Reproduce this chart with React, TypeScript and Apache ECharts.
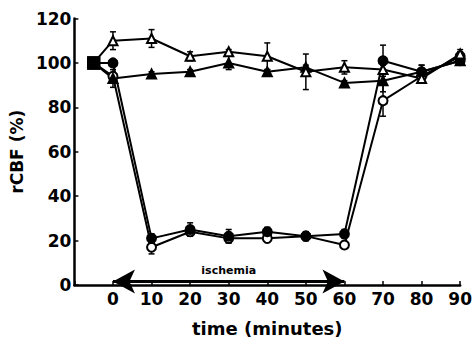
import React, { useEffect, useRef } from "react";
import * as echarts from "echarts";

const minutes = [-5, 0, 10, 20, 30, 40, 50, 60, 70, 80, 90];
const openTriangle = [100, 110, 111, 103, 105, 103, 96, 98, 97, 93, 104];
const filledTriangle = [100, 93, 95, 96, 100, 96, 98, 91, 92, 96, 101];
const filledCircle = [100, 100, 21, 25, 22, 24, 22, 23, 101, 96, 101];
const openCircle = [100, 94, 17, 24, 21, 21, 22, 18, 83, 94, 103];
const errOpenTriangle = [0, 4, 4, 2, 1, 6, 8, 3, 2, 2, 2];
const errFilledTriangle = [0, 4, 1, 1, 3, 1, 1, 1, 5, 3, 2];
const errFilledCircle = [0, 1, 2, 3, 3, 2, 2, 2, 7, 3, 2];
const errOpenCircle = [0, 1, 3, 2, 2, 1, 2, 1, 7, 3, 2];
const xTickLabels = ["0", "10", "20", "30", "40", "50", "60", "70", "80", "90"];
const yTickLabels = ["0", "20", "40", "60", "80", "100", "120"];
const ischemiaStart = 0;
const ischemiaEnd = 60;

const FONT = "DejaVu Sans";

function lineSeries(name: string, values: number[], symbol: string, filled: boolean) {
  return {
    name,
    type: "line",
    z: 3,
    symbol,
    symbolSize: 9,
    itemStyle: { color: filled ? "#000" : "#fff", borderColor: "#000", borderWidth: 2 },
    lineStyle: { color: "#000", width: 2 },
    data: values.map((v, i) =>
      i === 0
        ? { value: [minutes[i], v], symbol: "rect", symbolSize: 11, itemStyle: { color: "#000" } }
        : [minutes[i], v]
    ),
  };
}

function errData(values: number[], errs: number[]) {
  return values
    .map((v, i) => [minutes[i], v - errs[i], v + errs[i]])
    .filter((_, i) => errs[i] > 0);
}

export default function App() {
  const ref = useRef<HTMLDivElement>(null);
  useEffect(() => {
    if (!ref.current) return;
    const chart = echarts.init(ref.current, null, { renderer: "svg" });
    const errAll = [
      ...errData(openTriangle, errOpenTriangle),
      ...errData(filledTriangle, errFilledTriangle),
      ...errData(filledCircle, errFilledCircle),
      ...errData(openCircle, errOpenCircle),
    ];
    chart.setOption({
      animation: false,
      backgroundColor: "#fff",
      grid: { left: 70, top: 18.5, width: 392, height: 267.5, containLabel: false },
      xAxis: {
        type: "value",
        min: -10,
        max: 90,
        interval: 10,
        name: "time (minutes)",
        nameLocation: "middle",
        nameGap: 34,
        nameTextStyle: { fontFamily: FONT, fontWeight: "bold", fontSize: 18, color: "#000" },
        axisLine: { onZero: false, lineStyle: { color: "#000", width: 2.5 } },
        axisTick: { inside: true, length: 4, lineStyle: { color: "#000", width: 1.5 } },
        splitLine: { show: false },
        axisLabel: {
          fontFamily: FONT,
          fontWeight: "bold",
          fontSize: 17,
          color: "#000",
          margin: 5,
          formatter: (v: number) => {
            const s = String(v);
            return xTickLabels.includes(s) ? s : "";
          },
        },
      },
      yAxis: {
        type: "value",
        min: 0,
        max: 120,
        interval: 20,
        name: "rCBF (%)",
        nameLocation: "middle",
        nameGap: 29,
        nameTextStyle: { fontFamily: FONT, fontWeight: "bold", fontSize: 17, color: "#000" },
        axisLine: { show: true, onZero: false, lineStyle: { color: "#000", width: 2.5 } },
        axisTick: { show: true, inside: true, length: 4, lineStyle: { color: "#000", width: 1.5 } },
        splitLine: { show: false },
        axisLabel: {
          fontFamily: FONT,
          fontWeight: "bold",
          fontSize: 17,
          color: "#000",
          margin: 3,
          formatter: (v: number) => {
            const s = String(v);
            return yTickLabels.includes(s) ? s : "";
          },
        },
      },
      series: [
        {
          type: "custom",
          z: 2,
          silent: true,
          data: errAll,
          renderItem: (params: any, api: any) => {
            const x = api.value(0);
            const lo = api.coord([x, api.value(1)]);
            const hi = api.coord([x, api.value(2)]);
            const cap = 3;
            const st = { stroke: "#000", lineWidth: 1.5 };
            return {
              type: "group",
              children: [
                { type: "line", shape: { x1: lo[0], y1: lo[1], x2: hi[0], y2: hi[1] }, style: st },
                { type: "line", shape: { x1: lo[0] - cap, y1: lo[1], x2: lo[0] + cap, y2: lo[1] }, style: st },
                { type: "line", shape: { x1: hi[0] - cap, y1: hi[1], x2: hi[0] + cap, y2: hi[1] }, style: st },
              ],
            };
          },
        },
        lineSeries("open circle", openCircle, "circle", false),
        lineSeries("filled circle", filledCircle, "circle", true),
        lineSeries("filled triangle", filledTriangle, "triangle", true),
        {
          ...lineSeries("open triangle", openTriangle, "triangle", false),
          markLine: {
            silent: true,
            symbol: ["arrow", "arrow"],
            symbolSize: [18, 22],
            lineStyle: { color: "#000", width: 3, type: "solid" },
            label: {
              show: true,
              position: "middle",
              distance: 5,
              formatter: "ischemia",
              fontFamily: FONT,
              fontWeight: "bold",
              fontSize: 11,
              color: "#000",
            },
            data: [[{ coord: [ischemiaStart, 1.6] }, { coord: [ischemiaEnd, 1.6] }]],
          },
        },
      ],
    });
    return () => chart.dispose();
  }, []);
  return (
    <div
      ref={ref}
      style={{ position: "fixed", left: 0, top: 0, width: 475, height: 342 }}
    />
  );
}
